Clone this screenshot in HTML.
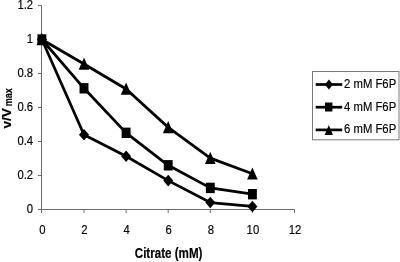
<!DOCTYPE html><html><head><meta charset="utf-8"><title>chart</title><style>html,body{margin:0;padding:0;background:#fff}svg{display:block;filter:blur(0.35px)}text{font-family:"Liberation Sans",sans-serif;fill:#000;stroke:#000;stroke-width:0.15px}</style></head><body>
<svg width="400" height="262" viewBox="0 0 400 262">
<rect width="400" height="262" fill="#fff"/>
<g stroke="#6c6c6c" stroke-width="1" fill="none">
<line x1="41.5" y1="5.5" x2="41.5" y2="213.0"/>
<line x1="38.0" y1="209.5" x2="294.5" y2="209.5"/>
<line x1="38.0" y1="209.50" x2="41.5" y2="209.50"/>
<line x1="38.0" y1="175.50" x2="41.5" y2="175.50"/>
<line x1="38.0" y1="141.50" x2="41.5" y2="141.50"/>
<line x1="38.0" y1="107.50" x2="41.5" y2="107.50"/>
<line x1="38.0" y1="73.50" x2="41.5" y2="73.50"/>
<line x1="38.0" y1="39.50" x2="41.5" y2="39.50"/>
<line x1="38.0" y1="5.50" x2="41.5" y2="5.50"/>
<line x1="41.50" y1="209.5" x2="41.50" y2="213.0"/>
<line x1="84.00" y1="209.5" x2="84.00" y2="213.0"/>
<line x1="126.10" y1="209.5" x2="126.10" y2="213.0"/>
<line x1="168.20" y1="209.5" x2="168.20" y2="213.0"/>
<line x1="210.30" y1="209.5" x2="210.30" y2="213.0"/>
<line x1="252.40" y1="209.5" x2="252.40" y2="213.0"/>
<line x1="294.50" y1="209.5" x2="294.50" y2="213.0"/>
</g>
<text transform="translate(33.1,212.85) scale(1,1.21)" font-size="11.3" text-anchor="end">0</text>
<text transform="translate(33.1,178.85) scale(1,1.21)" font-size="11.3" text-anchor="end">0.2</text>
<text transform="translate(33.1,144.85) scale(1,1.21)" font-size="11.3" text-anchor="end">0.4</text>
<text transform="translate(33.1,110.85) scale(1,1.21)" font-size="11.3" text-anchor="end">0.6</text>
<text transform="translate(33.1,76.85) scale(1,1.21)" font-size="11.3" text-anchor="end">0.8</text>
<text transform="translate(33.1,42.85) scale(1,1.21)" font-size="11.3" text-anchor="end">1</text>
<text transform="translate(33.1,8.85) scale(1,1.21)" font-size="11.3" text-anchor="end">1.2</text>
<text transform="translate(42.40,233.9) scale(1,1.21)" font-size="11.3" text-anchor="middle">0</text>
<text transform="translate(84.50,233.9) scale(1,1.21)" font-size="11.3" text-anchor="middle">2</text>
<text transform="translate(126.60,233.9) scale(1,1.21)" font-size="11.3" text-anchor="middle">4</text>
<text transform="translate(168.70,233.9) scale(1,1.21)" font-size="11.3" text-anchor="middle">6</text>
<text transform="translate(210.80,233.9) scale(1,1.21)" font-size="11.3" text-anchor="middle">8</text>
<text transform="translate(252.90,233.9) scale(1,1.21)" font-size="11.3" text-anchor="middle">10</text>
<text transform="translate(295.00,233.9) scale(1,1.21)" font-size="11.3" text-anchor="middle">12</text>
<text transform="translate(168.6,258) scale(1,1.23)" font-size="11.6" font-weight="bold" text-anchor="middle">Citrate (mM)</text>
<text transform="translate(10.6,128.6) scale(1,1.07) rotate(-90)" font-size="12.8" font-weight="bold">v/V</text>
<text transform="translate(11.7,106.3) scale(1,0.9) rotate(-90)" font-size="10" font-weight="bold">max</text>
<polyline points="41.90,39.50 84.00,134.70 126.10,156.29 168.20,180.60 210.30,202.53 252.40,206.44" fill="none" stroke="#000" stroke-width="2.75" stroke-linejoin="round"/>
<polyline points="41.90,39.50 84.00,88.29 126.10,132.83 168.20,165.30 210.30,187.91 252.40,194.20" fill="none" stroke="#000" stroke-width="2.75" stroke-linejoin="round"/>
<polyline points="41.90,39.50 84.00,63.98 126.10,88.97 168.20,127.39 210.30,158.16 252.40,173.80" fill="none" stroke="#000" stroke-width="2.75" stroke-linejoin="round"/>
<g fill="#000">
<polygon points="41.90,33.70 46.90,39.50 41.90,45.30 36.90,39.50"/>
<polygon points="84.00,128.90 89.00,134.70 84.00,140.50 79.00,134.70"/>
<polygon points="126.10,150.49 131.10,156.29 126.10,162.09 121.10,156.29"/>
<polygon points="168.20,174.80 173.20,180.60 168.20,186.40 163.20,180.60"/>
<polygon points="210.30,196.73 215.30,202.53 210.30,208.33 205.30,202.53"/>
<polygon points="252.40,200.64 257.40,206.44 252.40,212.24 247.40,206.44"/>
</g>
<g fill="#000">
<rect x="37.45" y="34.30" width="8.9" height="10.4"/>
<rect x="79.55" y="83.09" width="8.9" height="10.4"/>
<rect x="121.65" y="127.63" width="8.9" height="10.4"/>
<rect x="163.75" y="160.10" width="8.9" height="10.4"/>
<rect x="205.85" y="182.71" width="8.9" height="10.4"/>
<rect x="247.95" y="189.00" width="8.9" height="10.4"/>
</g>
<g fill="#000">
<polygon points="41.90,33.10 47.20,45.30 36.60,45.30"/>
<polygon points="84.00,57.58 89.30,69.78 78.70,69.78"/>
<polygon points="126.10,82.57 131.40,94.77 120.80,94.77"/>
<polygon points="168.20,120.99 173.50,133.19 162.90,133.19"/>
<polygon points="210.30,151.76 215.60,163.96 205.00,163.96"/>
<polygon points="252.40,167.40 257.70,179.60 247.10,179.60"/>
</g>
<rect x="312.5" y="71.5" width="86.5" height="68.3" fill="#fff" stroke="#7a7a7a" stroke-width="1"/>
<line x1="315.7" y1="84.5" x2="342.2" y2="84.5" stroke="#000" stroke-width="2.7"/>
<g fill="#000"><polygon points="328.90,79.40 332.90,84.50 328.90,89.60 324.90,84.50"/></g>
<text transform="translate(344.1,87.80) scale(1,1.21)" font-size="11.3">2 mM F6P</text>
<line x1="315.7" y1="107.2" x2="342.2" y2="107.2" stroke="#000" stroke-width="2.7"/>
<g fill="#000"><rect x="325.00" y="102.50" width="7.4" height="9"/></g>
<text transform="translate(344.1,110.50) scale(1,1.21)" font-size="11.3">4 mM F6P</text>
<line x1="315.7" y1="129.9" x2="342.2" y2="129.9" stroke="#000" stroke-width="2.7"/>
<g fill="#000"><polygon points="328.80,125.10 332.90,134.90 324.70,134.90"/></g>
<text transform="translate(344.1,133.20) scale(1,1.21)" font-size="11.3">6 mM F6P</text>
</svg></body></html>
